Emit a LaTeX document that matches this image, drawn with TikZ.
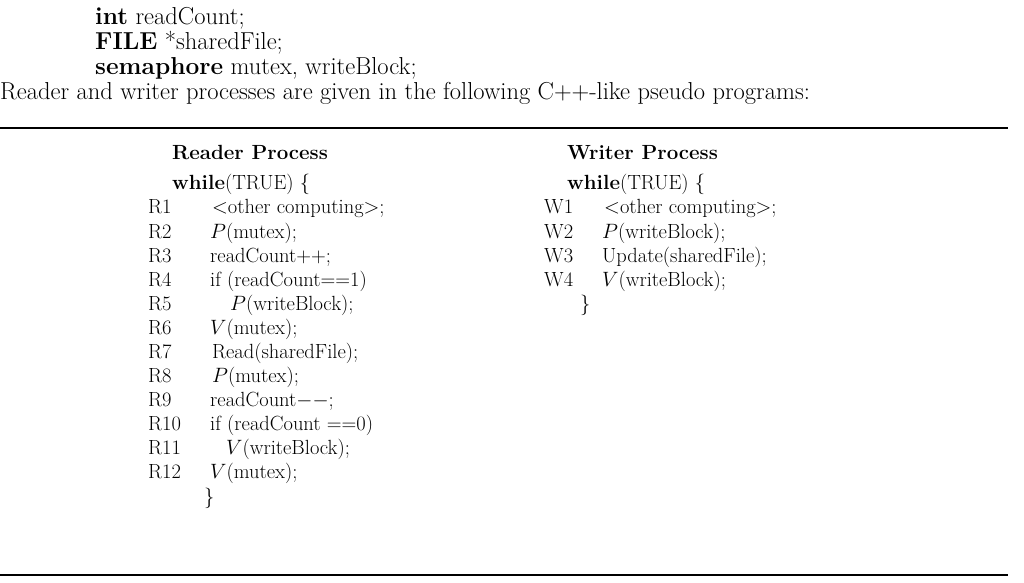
\documentclass[tikz,border=0pt]{standalone}
\begin{document}
\begin{tikzpicture}[x=1pt,y=-1pt,
  t/.style={anchor=base west,inner sep=0pt,font=\fontsize{20.5}{24}\selectfont},
  tt/.style={anchor=base west,inner sep=0pt,font=\fontsize{24.5}{28}\selectfont}]
\useasboundingbox (0,0) rectangle (1024,582);
\node[tt] (a) at (95,24) {\textbf{int} readCount;};
\node[tt] (b) at (95,49) {\textbf{FILE} *sharedFile;};
\node[tt] (c) at (95,74) {\textbf{semaphore} mutex, writeBlock;};
\node[tt] (d) at (0,99) {Reader and writer processes are given in the following C++-like pseudo programs:};
\coordinate (l1) at (0,128); \coordinate (r1) at (1008,128);
\draw[line width=1.2pt] (l1) -- (r1);
\coordinate (l2) at (0,575); \coordinate (r2) at (1008,575);
\draw[line width=1.2pt] (l2) -- (r2);
\node[t] (rh) at (172,159) {\textbf{Reader Process}};
\node[t] (wh) at (567,159) {\textbf{Writer Process}};
\node[t] (rw) at (172,189) {\textbf{while}(TRUE) \{};
\node[t] (ww) at (567,189) {\textbf{while}(TRUE) \{};
\foreach \n/\y/\x/\c in {1/213/212/{$<$other computing$>$;},2/238/210/{$P$(mutex);},3/262/210/{readCount++;},4/286/210/{if (readCount==1)},5/310/230/{$P$(writeBlock);},6/334/210/{$V$(mutex);},7/358/212/{Read(sharedFile);},8/382/212/{$P$(mutex);},9/406/210/{readCount$--$;},10/430/210/{if (readCount ==0)},11/454/226/{$V$(writeBlock);},12/478/210/{$V$(mutex);}}{
  \node[t] (rl\n) at (148,\y) {R\n};
  \node[t] (rc\n) at (\x,\y) {\c};
}
\node[t] (re) at (204,503) {\}};
\foreach \n/\y/\x/\c in {1/213/604/{$<$other computing$>$;},2/238/602/{$P$(writeBlock);},3/262/602/{Update(sharedFile);},4/286/602/{$V$(writeBlock);}}{
  \node[t] (wl\n) at (544,\y) {W\n};
  \node[t] (wc\n) at (\x,\y) {\c};
}
\node[t] (we) at (580,310) {\}};
\end{tikzpicture}
\end{document}
